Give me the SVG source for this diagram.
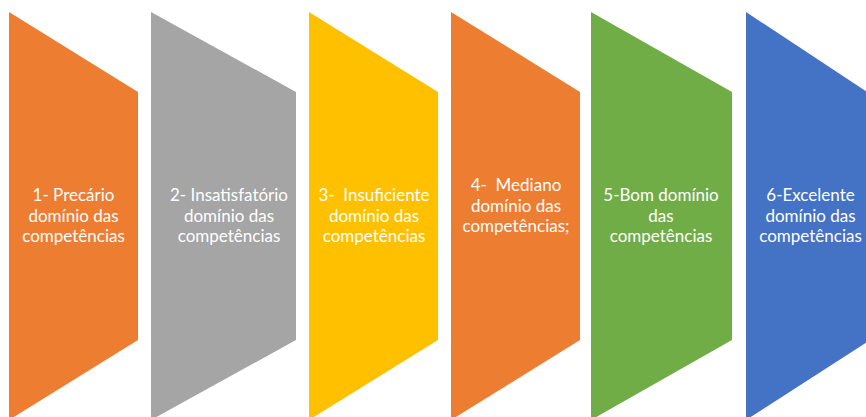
<svg xmlns="http://www.w3.org/2000/svg" width="866" height="417" viewBox="0 0 866 417">
<style>
.lbl{font-family:Lato,"Open Sans","Liberation Sans",sans-serif;font-size:17px;fill:#ffffff;text-anchor:middle}
</style>
<rect width="866" height="417" fill="#ffffff"/>
<g id="node1">
<polygon points="9,12 138,92 138,340 9,420" fill="#ED7D31"/>
<text class="lbl"><tspan x="73.5" y="201">1- Precário</tspan><tspan x="73.5" y="221.5">domínio das</tspan><tspan x="73.5" y="242">competências</tspan></text>
</g>
<g id="node2">
<polygon points="151,12 296,92 296,340 151,420" fill="#A5A5A5"/>
<text class="lbl"><tspan x="229" y="201">2- Insatisfatório</tspan><tspan x="229" y="221.5">domínio das</tspan><tspan x="229" y="242">competências</tspan></text>
</g>
<g id="node3">
<polygon points="309,12 438,92 438,340 309,420" fill="#FFC000"/>
<text class="lbl"><tspan x="374" y="201" xml:space="preserve">3-  Insuficiente</tspan><tspan x="374" y="221.5">domínio das</tspan><tspan x="374" y="242">competências</tspan></text>
</g>
<g id="node4">
<polygon points="451,12 580,92 580,340 451,420" fill="#ED7D31"/>
<text class="lbl"><tspan x="516" y="191" xml:space="preserve">4-  Mediano</tspan><tspan x="516" y="211.5">domínio das</tspan><tspan x="516" y="232">competências;</tspan></text>
</g>
<g id="node5">
<polygon points="591,12 732,92 732,340 591,420" fill="#70AD47"/>
<text class="lbl"><tspan x="661" y="201">5-Bom domínio</tspan><tspan x="661" y="221.5">das</tspan><tspan x="661" y="242">competências</tspan></text>
</g>
<g id="node6">
<polygon points="746,12 867,92 867,342 746,420" fill="#4472C4"/>
<text class="lbl"><tspan x="810.5" y="201">6-Excelente</tspan><tspan x="810.5" y="221.5">domínio das</tspan><tspan x="810.5" y="242">competências</tspan></text>
</g>
<g id="connectors"/>
</svg>
